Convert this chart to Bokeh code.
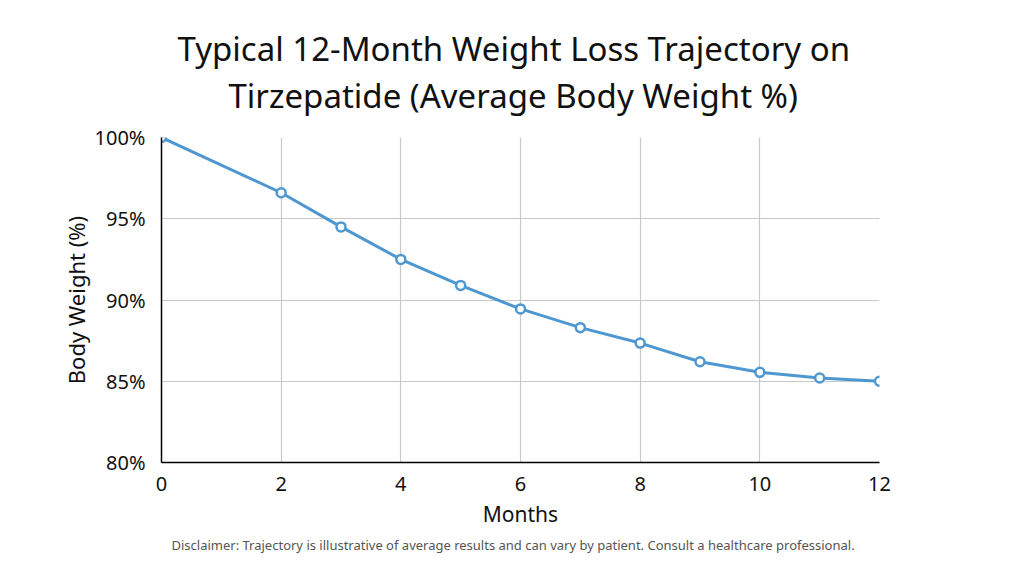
from bokeh.plotting import figure
from bokeh.models import Title, PrintfTickFormatter, FixedTicker, Range1d
from bokeh.embed import file_html
from bokeh.resources import INLINE

months = [0, 2, 3, 4, 5, 6, 7, 8, 9, 10, 11, 12]
body_weight = [100.0, 96.6, 94.5, 92.5, 90.9, 89.45, 88.3, 87.35, 86.2, 85.55, 85.2, 85.0]
x_ticks = [0, 2, 4, 6, 8, 10, 12]
y_ticks = [80, 85, 90, 95, 100]
title_lines = ["Typical 12-Month Weight Loss Trajectory on", "Tirzepatide (Average Body Weight %)"]
disclaimer = "Disclaimer: Trajectory is illustrative of average results and can vary by patient. Consult a healthcare professional."

FONT = "Noto Sans"
W, H = 1008, 556
p = figure(width=W, height=H, output_backend="svg", toolbar_location=None,
           x_range=Range1d(0, 12), y_range=Range1d(80, 100),
           min_border_left=161, min_border_right=129, min_border_top=137, min_border_bottom=93)
p.outline_line_color = None

p.add_layout(Title(text=title_lines[1], align="left", offset=67, text_font=FONT,
                   text_font_size="33px", text_font_style="normal", text_color="#111111",
                   text_line_height=0.9, standoff=40), "above")
p.add_layout(Title(text=title_lines[0], align="left", offset=16, text_font=FONT,
                   text_font_size="33px", text_font_style="normal", text_color="#111111",
                   text_line_height=0.9, standoff=-40), "above")
p.add_layout(Title(text=disclaimer, align="left", offset=10, text_font=FONT, text_font_size="13px",
                   text_font_style="normal", text_color="#555555", standoff=6), "below")

for ax in (p.xaxis[0], p.yaxis[0]):
    ax.axis_line_color = "black"
    ax.axis_line_width = 1.5
    ax.major_tick_line_color = None
    ax.minor_tick_line_color = None
    ax.major_label_text_font = FONT
    ax.major_label_text_font_size = "20px"
    ax.major_label_text_color = "#111111"
    ax.axis_label_text_font = FONT
    ax.axis_label_text_font_size = "21px"
    ax.axis_label_text_font_style = "normal"
    ax.axis_label_text_color = "#111111"

p.xaxis.ticker = FixedTicker(ticks=x_ticks)
p.yaxis.ticker = FixedTicker(ticks=y_ticks)
p.yaxis.formatter = PrintfTickFormatter(format="%d%%")
p.xaxis.axis_label = "Months"
p.yaxis.axis_label = "Body Weight (%)"
p.yaxis.axis_label_text_font_size = "22px"
p.xaxis.major_label_standoff = 8
p.yaxis.major_label_standoff = 10
p.xaxis.axis_label_standoff = 6
p.yaxis.axis_label_standoff = 1

p.xgrid.ticker = FixedTicker(ticks=x_ticks)
p.ygrid.ticker = FixedTicker(ticks=y_ticks)
p.grid.grid_line_color = "#c8c8c8"
p.grid.grid_line_width = 1.2

color = "#4e97d1"
p.line(months, body_weight, line_color=color, line_width=3)
p.scatter(months, body_weight, size=9, fill_color="white", line_color=color, line_width=2.5)

open("out.html", "w").write(file_html(p, INLINE))
